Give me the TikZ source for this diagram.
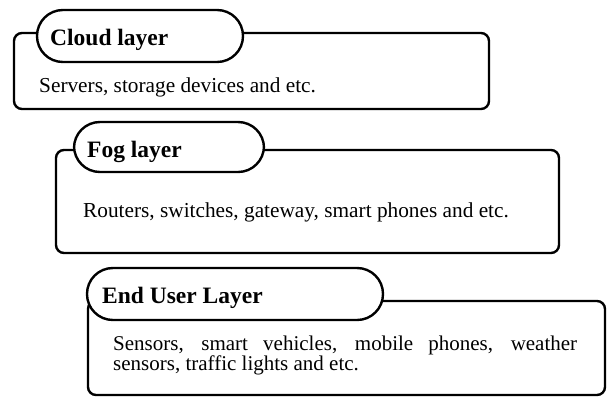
\documentclass[tikz,border=0pt]{standalone}
\usepackage{fontspec}
\setmainfont{Liberation Serif}
\begin{document}
\begin{tikzpicture}[x=1pt,y=-1pt,
  layerbox/.style={draw, line width=2.4pt, rounded corners=8pt, fill=white},
  pill/.style={draw, line width=2.4pt, rounded corners=25.9pt, fill=white},
  title/.style={anchor=base west, inner sep=0pt, font=\fontsize{23.5}{27}\selectfont\bfseries},
  body/.style={anchor=base west, inner sep=0pt, font=\fontsize{21.3}{20}\selectfont, align=left}]
\useasboundingbox (0,0) rectangle (607,397);

% Cloud layer
\draw[layerbox] (14,33) rectangle (489,109);
\draw[pill] (37,10) rectangle (243,62);
\node[title] (cloudtitle) at (50,45) {Cloud layer};
\node[body] (cloudtext) at (39,92) {Servers, storage devices and etc.};

% Fog layer
\draw[layerbox] (56,150) rectangle (559,253);
\draw[pill] (74,122) rectangle (264,172);
\node[title] (fogtitle) at (87,157) {Fog layer};
\node[body] (fogtext) at (83,217) {Routers, switches, gateway, smart phones and etc.};

% End user layer (two-line justified paragraph; base is the last line)
\draw[layerbox] (88,301) rectangle (605,395);
\draw[pill] (87,268) rectangle (383,320);
\node[title] (endtitle) at (102,303) {End User Layer};
\node[body, font=\fontsize{21}{19.5}\selectfont] (endtext) at (113,370)
  {\makebox[464pt][s]{Sensors, smart vehicles, mobile phones, weather}\\
   sensors, traffic lights and etc.};
\end{tikzpicture}
\end{document}
